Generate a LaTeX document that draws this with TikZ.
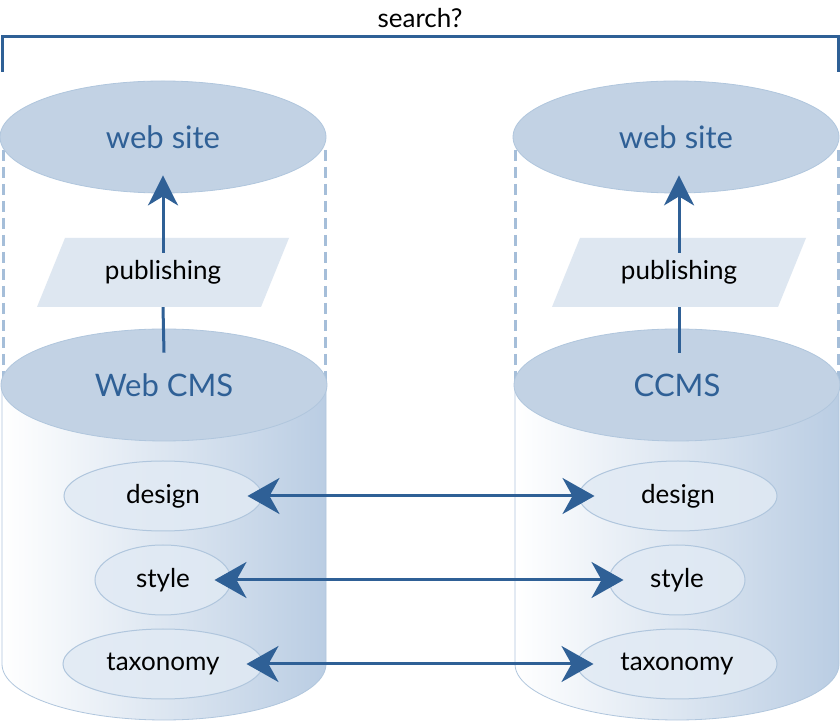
\documentclass[tikz,border=0pt]{standalone}
\usepackage{fontspec}
\setmainfont{Lato}
\usetikzlibrary{arrows.meta,shapes.geometric}
\definecolor{dblue}{RGB}{47,96,150}
\definecolor{topblue}{RGB}{194,210,228}
\definecolor{edgeblue}{RGB}{176,198,221}
\definecolor{pubfill}{RGB}{222,231,241}
\definecolor{innerfill}{RGB}{225,234,244}
\definecolor{dashblue}{RGB}{165,190,217}
\definecolor{bodyblue}{RGB}{186,205,227}
\definecolor{bodymid}{RGB}{222,232,243}
\begin{document}
\begin{tikzpicture}[x=1pt,y=1pt,
  bigell/.style={ellipse, fill=topblue, draw=edgeblue, line width=0.8pt, minimum width=326pt, minimum height=112pt, inner sep=0pt, text=dblue, font=\fontsize{31}{35}\selectfont},
  inell/.style={ellipse, fill=innerfill, fill opacity=0.85, text opacity=1, draw=edgeblue, line width=1pt, minimum height=70pt, inner sep=0pt, font=\fontsize{26}{30}\selectfont},
  pubtext/.style={minimum width=200pt, minimum height=69pt, inner sep=0pt, font=\fontsize{26}{30}\selectfont},
  conn/.style={draw=dblue, line width=3pt},
  uparrow/.style={-{Stealth[length=30pt,width=30pt,inset=9pt]}},
  dblarrow/.style={{Stealth[length=32pt,width=36pt,inset=10pt]}-{Stealth[length=32pt,width=36pt,inset=10pt]}},
  dashln/.style={draw=dashblue, line width=3pt, dash pattern=on 11pt off 6pt},
  cylbody/.style={left color=white, middle color=bodymid, right color=bodyblue},
  cyledge/.style={draw=edgeblue, line width=0.8pt},
  pubshape/.style={fill=pubfill}
]
\fill[white] (0,0) rectangle (840,725);
\useasboundingbox (0,0) rectangle (840,725);

% search bracket
\node[font=\fontsize{26}{30}\selectfont] (search) at (420,707) {search?};
\coordinate (bl) at (2,653);
\coordinate (br) at (838,653);
\draw[conn] (bl) -- ++(0,35) -| (br);

% dashed guides
\draw[dashln] (3,575) -- (3,345);
\draw[dashln] (325,575) -- (325,345);
\draw[dashln] (515,575) -- (515,345);
\draw[dashln] (838,575) -- (838,345);

% web sites
\node[bigell] (webL) at (163,588) {web site};
\node[bigell] (webR) at (676,588) {web site};

% cylinders bodies
\shade[cylbody] (2,340) -- (2,61) arc[start angle=180, end angle=360, x radius=162, y radius=56] -- (326,340) -- cycle;
\draw[cyledge] (2,340) -- (2,61) arc[start angle=180, end angle=360, x radius=162, y radius=56] -- (326,340);
\shade[cylbody] (515,340) -- (515,61) arc[start angle=180, end angle=360, x radius=162, y radius=56] -- (839,340) -- cycle;
\draw[cyledge] (515,340) -- (515,61) arc[start angle=180, end angle=360, x radius=162, y radius=56] -- (839,340);

% cylinder tops
\node[bigell] (cmsL) at (164,340) {Web CMS};
\node[bigell] (cmsR) at (677,340) {CCMS};

% publishing parallelograms
\fill[pubshape] (65,487) -- (289,487) -- (261,418) -- (37,418) -- cycle;
\fill[pubshape] (580,487) -- (806,487) -- (778,418) -- (552,418) -- cycle;
\node[pubtext] (pubL) at (163,452.5) {publishing};
\node[pubtext] (pubR) at (679,452.5) {publishing};

% vertical connectors
\draw[conn] ([yshift=-24pt]cmsL.north) -- (pubL.south);
\draw[conn,uparrow] ([yshift=-15pt]pubL.north) -- ([yshift=18pt]webL.south);
\draw[conn] ([yshift=-24pt]pubR.south|-cmsR.north) -- (pubR.south);
\draw[conn,uparrow] ([yshift=-15pt]pubR.north) -- ([yshift=18pt]pubR.north|-webR.south);

% inner ellipses
\node[inell, minimum width=198pt] (dL) at (163,229) {design};
\node[inell, minimum width=136pt] (sL) at (163,145) {style};
\node[inell, minimum width=200pt] (tL) at (163,61) {taxonomy};
\node[inell, minimum width=198pt] (dR) at (678,229) {design};
\node[inell, minimum width=136pt] (sR) at (677,145) {style};
\node[inell, minimum width=200pt] (tR) at (677,61) {taxonomy};

% horizontal double arrows
\draw[conn,dblarrow] ([xshift=-15pt]dL.east) -- ([xshift=16pt]dR.west);
\draw[conn,dblarrow] ([xshift=-17pt]sL.east) -- ([xshift=15pt]sR.west);
\draw[conn,dblarrow] ([xshift=-17pt]tL.east) -- ([xshift=17pt]tR.west);
\end{tikzpicture}
\end{document}
